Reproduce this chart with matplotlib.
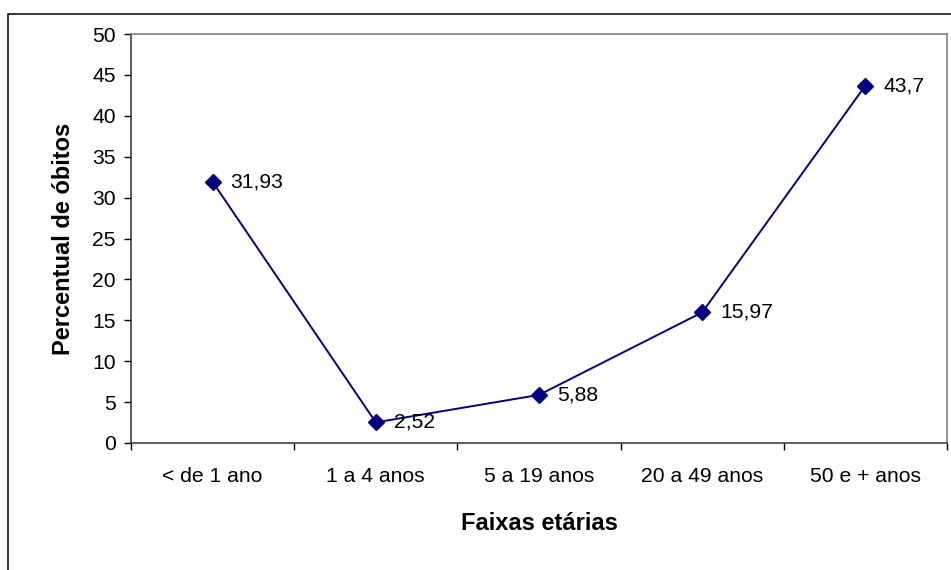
import matplotlib
matplotlib.use("Agg")
from matplotlib import pyplot as plt
from matplotlib.patches import Rectangle

# Dados do gráfico
faixas = ["< de 1 ano", "1 a 4 anos", "5 a 19 anos", "20 a 49 anos", "50 e + anos"]
percentual = [31.93, 2.52, 5.88, 15.97, 43.7]
rotulos = ["31,93", "2,52", "5,88", "15,97", "43,7"]
yticks = [0, 5, 10, 15, 20, 25, 30, 35, 40, 45, 50]

plt.rcParams["font.family"] = ["Liberation Sans", "DejaVu Sans"]

W, H = 951, 570
fig = plt.figure(figsize=(W / 100, H / 100), dpi=100)

# moldura externa (cortada à direita e embaixo)
fig.patches.append(Rectangle((8 / W, -0.1), 1.2, (H - 14) / H + 0.1,
                             transform=fig.transFigure, fill=False,
                             edgecolor="black", linewidth=1.1))

ax = fig.add_axes([131 / W, 1 - 443 / H, (947 - 131) / W, (443 - 34) / H])

x = list(range(len(faixas)))
ax.plot(x, percentual, color="#000080", linewidth=1.4, marker="D",
        markersize=8, markerfacecolor="#000080", markeredgecolor="#000080")

for xi, yi, txt in zip(x, percentual, rotulos):
    ax.annotate(txt, (xi, yi), xytext=(13, 0), textcoords="offset points",
                va="center", ha="left", fontsize=15.2)

ax.set_xlim(-0.5, len(faixas) - 0.5)
ax.set_ylim(0, 50)
ax.set_yticks(yticks)
ax.set_xticks(x)
ax.set_xticklabels(faixas)
ax.set_xticks([i - 0.5 for i in range(len(faixas) + 1)], minor=True)
ax.tick_params(axis="x", which="major", length=0, pad=17, labelsize=15.2)
ax.tick_params(axis="x", which="minor", length=5, width=1, direction="out")
ax.tick_params(axis="y", length=5, width=1, direction="out", pad=6, labelsize=15.2)

for s in ["top", "right"]:
    ax.spines[s].set_color("#808080")
    ax.spines[s].set_linewidth(1.2)
for s in ["left", "bottom"]:
    ax.spines[s].set_color("#303030")
    ax.spines[s].set_linewidth(1.1)

ax.set_xlabel("Faixas etárias", fontsize=17, fontweight="bold", labelpad=19)
ax.set_ylabel("Percentual de óbitos", fontsize=17, fontweight="bold", labelpad=12)

fig.savefig("out.png", dpi=100)
